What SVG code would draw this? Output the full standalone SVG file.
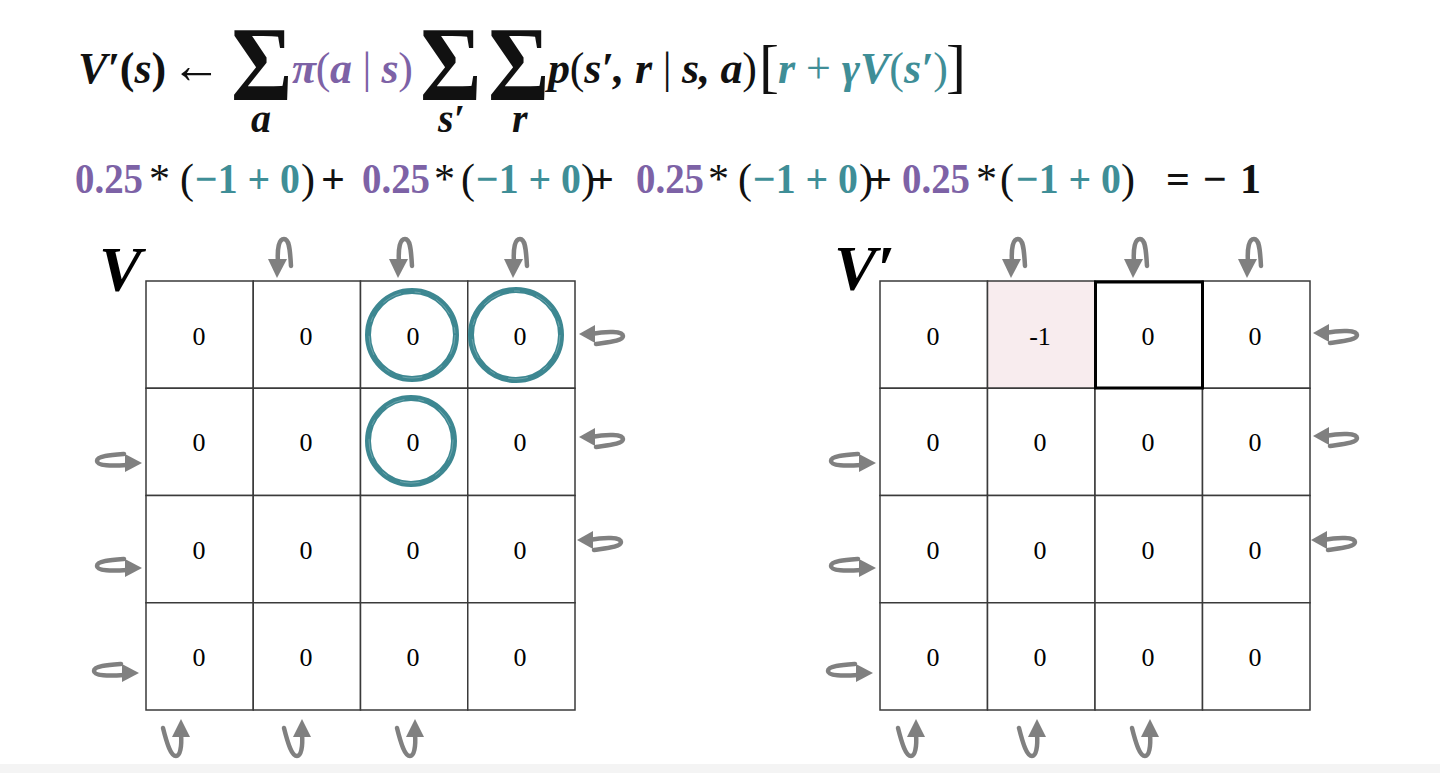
<svg xmlns="http://www.w3.org/2000/svg" width="1440" height="773" viewBox="0 0 1440 773">
<defs>
<style>
.eq{font-family:"Liberation Serif","Times New Roman",serif;font-weight:bold;font-style:italic;font-size:44px;fill:#111}
.up{font-style:normal}
.pu{fill:#7d62a6}
.te{fill:#3f8e97}
.sig{font-family:"Liberation Serif","Times New Roman",serif;font-weight:bold;font-style:normal;font-size:94px;fill:#111}
.l2{font-family:"Liberation Serif","Times New Roman",serif;font-weight:bold;font-size:42px;fill:#111}
.nw{font-weight:normal}
.lab{font-family:"Liberation Serif","Times New Roman",serif;font-weight:bold;font-style:italic;font-size:64px;fill:#000}
.cell{fill:#fff;stroke:#3a3a3a;stroke-width:1.5}
.num{font-family:"Liberation Serif","Times New Roman",serif;font-size:26px;fill:#000;text-anchor:middle}
.ring{fill:none;stroke:#3d8791;stroke-width:6}
.ringtex{fill:none;stroke:#fff;stroke-width:0.7;stroke-dasharray:20 14 6 17;opacity:0.35}
.sh{fill:none;stroke:#808080;stroke-width:4.5;stroke-linecap:round}
.hd{fill:#808080}
</style>
<g id="arrDown"><path class="sh" d="M1,-15 C0,-30 2,-39 7,-39 C12,-39 13,-30 14,-12"/><polygon class="hd" points="0,0 -9,-19 10,-19"/></g>
<g id="arrUp"><path class="sh" d="M0,15 C1,28 -1,37 -5,37 C-10,37 -14,25 -18,9"/><polygon class="hd" points="0,0 -9,18 9,18"/></g>
<g id="arrLeft"><path class="sh" d="M12,0 C28,-3 44,-3 44,2 C44,7 31,8 17,10"/><polygon class="hd" points="0,0 16,-9 16,9"/></g>
<g id="arrRight"><path class="sh" d="M-15,2 C-30,3 -45,3 -45,-2 C-45,-7 -31,-8 -18,-9"/><polygon class="hd" points="0,0 -17,-9 -17,9"/></g>
</defs>
<rect width="1440" height="773" fill="#fff"/>
<rect x="0" y="764" width="1440" height="9" fill="#f4f4f4"/>

<g id="formula">
<text class="eq" y="83"><tspan x="78">V′</tspan><tspan class="up">(</tspan><tspan>s</tspan><tspan class="up">)</tspan></text>
<text class="eq up" x="171" y="83" style="font-weight:normal;font-size:52px" textLength="50" lengthAdjust="spacingAndGlyphs">←</text>
<text class="sig" transform="translate(231,100) scale(1,1.12)">Σ</text>
<text class="eq pu" x="292" y="83" textLength="121" lengthAdjust="spacing">π<tspan class="up" style="font-weight:normal">(</tspan>a<tspan class="up" style="font-weight:normal"> | </tspan>s<tspan class="up" style="font-weight:normal">)</tspan></text>
<text class="sig" transform="translate(420,100) scale(1,1.12)">Σ</text>
<text class="sig" transform="translate(488,100) scale(1,1.12)">Σ</text>
<text class="eq" x="251" y="132" style="font-size:40px">a</text>
<text class="eq" x="438" y="132" style="font-size:40px">s′</text>
<text class="eq" x="512" y="132" style="font-size:40px">r</text>
<text class="eq" x="548" y="83" textLength="209" lengthAdjust="spacing">p<tspan class="up" style="font-weight:normal">(</tspan>s′, r<tspan class="up" style="font-weight:normal"> | </tspan>s, a<tspan class="up" style="font-weight:normal">)</tspan></text>
<text class="eq up" x="759" y="86" style="font-weight:normal;font-size:60px">[</text>
<text class="eq te" x="778" y="83" textLength="170" lengthAdjust="spacing">r <tspan class="up" style="font-weight:normal">+</tspan> γV<tspan class="up" style="font-weight:normal">(</tspan>s′<tspan class="up" style="font-weight:normal">)</tspan></text>
<text class="eq up" x="946" y="86" style="font-weight:normal;font-size:60px">]</text>
</g>

<g id="calc">
<text class="l2" y="193">
<tspan x="75" class="pu" textLength="68" lengthAdjust="spacingAndGlyphs">0.25</tspan><tspan x="149" class="nw">*</tspan><tspan x="180" class="nw">(</tspan><tspan x="195" class="te" textLength="105" lengthAdjust="spacingAndGlyphs">−1 + 0</tspan><tspan x="301" class="nw">)</tspan><tspan x="321">+</tspan>
<tspan x="362" class="pu" textLength="68" lengthAdjust="spacingAndGlyphs">0.25</tspan><tspan x="434" class="nw">*</tspan><tspan x="461" class="nw">(</tspan><tspan x="476" class="te" textLength="105" lengthAdjust="spacingAndGlyphs">−1 + 0</tspan><tspan x="581" class="nw">)</tspan><tspan x="590">+</tspan>
<tspan x="636" class="pu" textLength="68" lengthAdjust="spacingAndGlyphs">0.25</tspan><tspan x="708" class="nw">*</tspan><tspan x="738" class="nw">(</tspan><tspan x="753" class="te" textLength="105" lengthAdjust="spacingAndGlyphs">−1 + 0</tspan><tspan x="859" class="nw">)</tspan><tspan x="868">+</tspan>
<tspan x="902" class="pu" textLength="68" lengthAdjust="spacingAndGlyphs">0.25</tspan><tspan x="976" class="nw">*</tspan><tspan x="1000" class="nw">(</tspan><tspan x="1016" class="te" textLength="105" lengthAdjust="spacingAndGlyphs">−1 + 0</tspan><tspan x="1121" class="nw">)</tspan>
<tspan x="1166">=</tspan><tspan x="1203">−</tspan><tspan x="1240">1</tspan>
</text>
</g>

<g id="label-V"><text class="lab" x="99" y="291">V</text></g>
<g id="label-Vp"><text class="lab" x="834" y="290">V′</text></g>

<g id="gridV">
<g id="v-r1c1"><rect class="cell" x="146" y="281" width="107.25" height="107.25"/><text class="num" x="199" y="345">0</text></g>
<g id="v-r1c2"><rect class="cell" x="253.25" y="281" width="107.25" height="107.25"/><text class="num" x="306" y="345">0</text></g>
<g id="v-r1c3"><rect class="cell" x="360.5" y="281" width="107.25" height="107.25"/><text class="num" x="413" y="345">0</text></g>
<g id="v-r1c4"><rect class="cell" x="467.75" y="281" width="107.25" height="107.25"/><text class="num" x="520" y="345">0</text></g>
<g id="v-r2c1"><rect class="cell" x="146" y="388.25" width="107.25" height="107.25"/><text class="num" x="199" y="451">0</text></g>
<g id="v-r2c2"><rect class="cell" x="253.25" y="388.25" width="107.25" height="107.25"/><text class="num" x="306" y="451">0</text></g>
<g id="v-r2c3"><rect class="cell" x="360.5" y="388.25" width="107.25" height="107.25"/><text class="num" x="413" y="451">0</text></g>
<g id="v-r2c4"><rect class="cell" x="467.75" y="388.25" width="107.25" height="107.25"/><text class="num" x="520" y="451">0</text></g>
<g id="v-r3c1"><rect class="cell" x="146" y="495.5" width="107.25" height="107.25"/><text class="num" x="199" y="559">0</text></g>
<g id="v-r3c2"><rect class="cell" x="253.25" y="495.5" width="107.25" height="107.25"/><text class="num" x="306" y="559">0</text></g>
<g id="v-r3c3"><rect class="cell" x="360.5" y="495.5" width="107.25" height="107.25"/><text class="num" x="413" y="559">0</text></g>
<g id="v-r3c4"><rect class="cell" x="467.75" y="495.5" width="107.25" height="107.25"/><text class="num" x="520" y="559">0</text></g>
<g id="v-r4c1"><rect class="cell" x="146" y="602.75" width="107.25" height="107.25"/><text class="num" x="199" y="666">0</text></g>
<g id="v-r4c2"><rect class="cell" x="253.25" y="602.75" width="107.25" height="107.25"/><text class="num" x="306" y="666">0</text></g>
<g id="v-r4c3"><rect class="cell" x="360.5" y="602.75" width="107.25" height="107.25"/><text class="num" x="413" y="666">0</text></g>
<g id="v-r4c4"><rect class="cell" x="467.75" y="602.75" width="107.25" height="107.25"/><text class="num" x="520" y="666">0</text></g>
</g>

<g id="rings">
<circle class="ring" cx="412" cy="335" r="44"/><circle class="ringtex" cx="412" cy="335" r="43"/>
<circle class="ring" cx="516" cy="335" r="45"/><circle class="ringtex" cx="516" cy="335" r="44"/>
<circle class="ring" cx="411" cy="441" r="43"/><circle class="ringtex" cx="411" cy="441" r="42"/>
</g>

<g id="gridVp">
<g id="vp-r1c1"><rect class="cell" x="880" y="281" width="107.5" height="107.25"/><text class="num" x="933" y="345">0</text></g>
<g id="vp-r1c2"><rect class="cell" x="987.5" y="281" width="107.5" height="107.25" style="fill:#f8ecee"/><text class="num" x="1040" y="345">-1</text></g>
<g id="vp-r1c3"><rect class="cell" x="1095" y="281" width="107.5" height="107.25"/><text class="num" x="1148" y="345">0</text></g>
<g id="vp-r1c4"><rect class="cell" x="1202.5" y="281" width="107.5" height="107.25"/><text class="num" x="1255" y="345">0</text></g>
<g id="vp-r2c1"><rect class="cell" x="880" y="388.25" width="107.5" height="107.25"/><text class="num" x="933" y="451">0</text></g>
<g id="vp-r2c2"><rect class="cell" x="987.5" y="388.25" width="107.5" height="107.25"/><text class="num" x="1040" y="451">0</text></g>
<g id="vp-r2c3"><rect class="cell" x="1095" y="388.25" width="107.5" height="107.25"/><text class="num" x="1148" y="451">0</text></g>
<g id="vp-r2c4"><rect class="cell" x="1202.5" y="388.25" width="107.5" height="107.25"/><text class="num" x="1255" y="451">0</text></g>
<g id="vp-r3c1"><rect class="cell" x="880" y="495.5" width="107.5" height="107.25"/><text class="num" x="933" y="559">0</text></g>
<g id="vp-r3c2"><rect class="cell" x="987.5" y="495.5" width="107.5" height="107.25"/><text class="num" x="1040" y="559">0</text></g>
<g id="vp-r3c3"><rect class="cell" x="1095" y="495.5" width="107.5" height="107.25"/><text class="num" x="1148" y="559">0</text></g>
<g id="vp-r3c4"><rect class="cell" x="1202.5" y="495.5" width="107.5" height="107.25"/><text class="num" x="1255" y="559">0</text></g>
<g id="vp-r4c1"><rect class="cell" x="880" y="602.75" width="107.5" height="107.25"/><text class="num" x="933" y="666">0</text></g>
<g id="vp-r4c2"><rect class="cell" x="987.5" y="602.75" width="107.5" height="107.25"/><text class="num" x="1040" y="666">0</text></g>
<g id="vp-r4c3"><rect class="cell" x="1095" y="602.75" width="107.5" height="107.25"/><text class="num" x="1148" y="666">0</text></g>
<g id="vp-r4c4"><rect class="cell" x="1202.5" y="602.75" width="107.5" height="107.25"/><text class="num" x="1255" y="666">0</text></g>
<rect id="vp-focus" x="1095.5" y="282" width="107" height="106" fill="none" stroke="#000" stroke-width="3"/>
</g>

<g id="connectors">
<use href="#arrDown" transform="translate(277,278)"/>
<use href="#arrDown" transform="translate(398,278)"/>
<use href="#arrDown" transform="translate(513,278)"/>
<use href="#arrLeft" transform="translate(579,334)"/>
<use href="#arrLeft" transform="translate(579,437)"/>
<use href="#arrLeft" transform="translate(577,540)"/>
<use href="#arrRight" transform="translate(142,463)"/>
<use href="#arrRight" transform="translate(142,568)"/>
<use href="#arrRight" transform="translate(139,673)"/>
<use href="#arrUp" transform="translate(181,719)"/>
<use href="#arrUp" transform="translate(302,719)"/>
<use href="#arrUp" transform="translate(415,719)"/>
<use href="#arrDown" transform="translate(1011,278)"/>
<use href="#arrDown" transform="translate(1133,278)"/>
<use href="#arrDown" transform="translate(1247,278)"/>
<use href="#arrLeft" transform="translate(1313,333)"/>
<use href="#arrLeft" transform="translate(1313,436)"/>
<use href="#arrLeft" transform="translate(1311,540)"/>
<use href="#arrRight" transform="translate(876,463)"/>
<use href="#arrRight" transform="translate(876,568)"/>
<use href="#arrRight" transform="translate(873,673)"/>
<use href="#arrUp" transform="translate(916,719)"/>
<use href="#arrUp" transform="translate(1037,719)"/>
<use href="#arrUp" transform="translate(1150,719)"/>
</g>
</svg>
